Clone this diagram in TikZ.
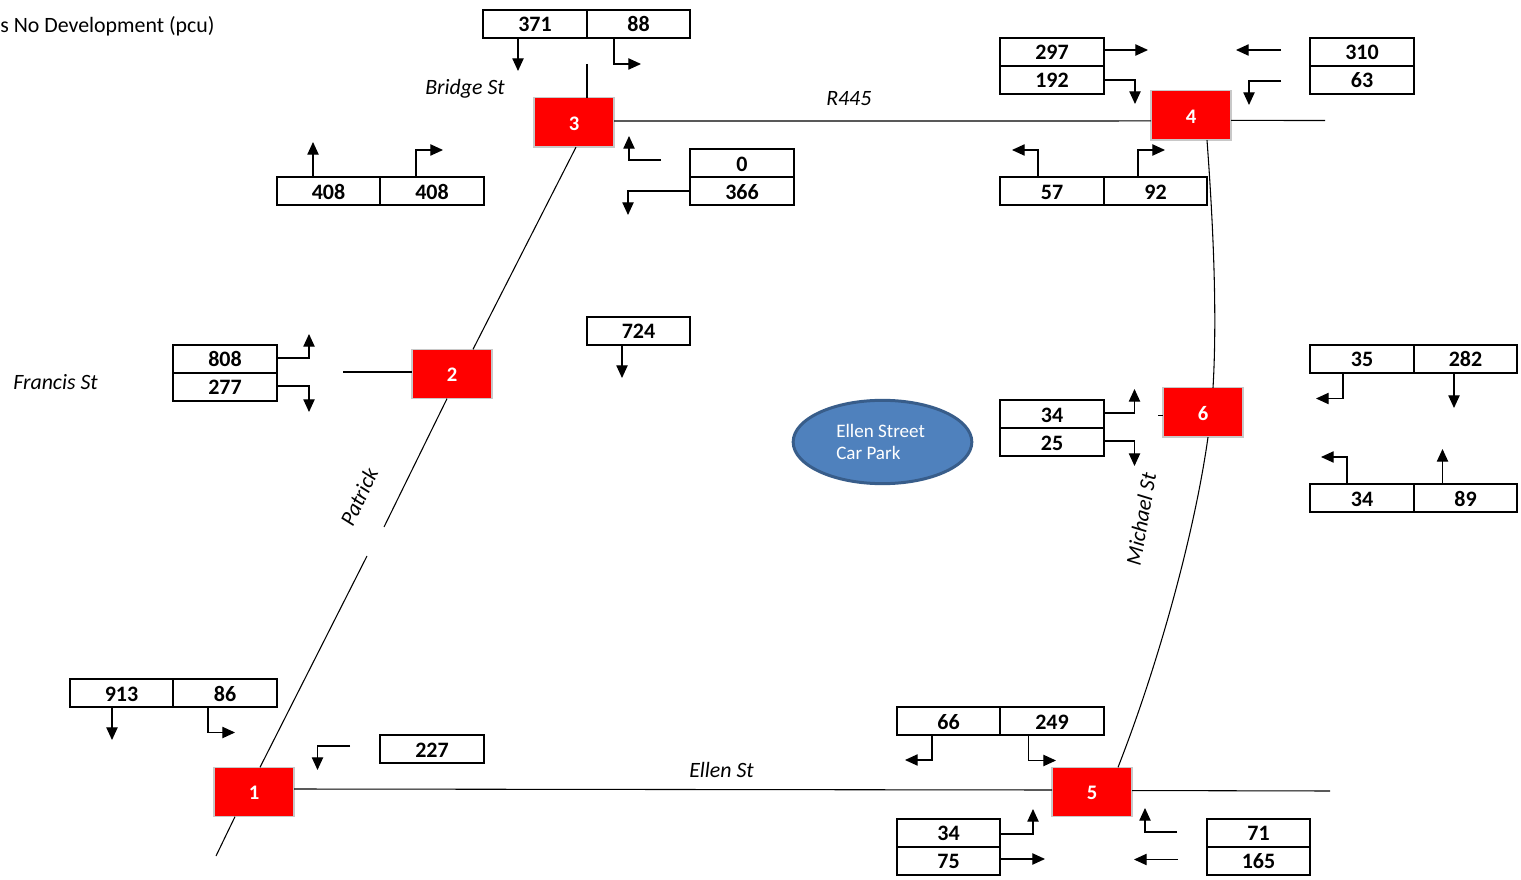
\documentclass[tikz,border=0pt]{standalone}
\usepackage{fontspec}
\setmainfont{Carlito}
\usetikzlibrary{arrows.meta,shapes.geometric}
\definecolor{parkfill}{RGB}{79,129,189}
\definecolor{parkline}{RGB}{56,93,138}
\definecolor{junctionline}{RGB}{200,200,200}
\tikzset{
  cell/.style={draw,line width=1.5pt,minimum width=77.6pt,minimum height=21pt,inner sep=0pt,outer sep=0pt,text height=12pt,text depth=0pt,font=\fontsize{16.5}{18}\selectfont\bfseries},
  junction/.style={draw=junctionline,fill=red,line width=1pt,minimum width=60pt,minimum height=37pt,inner sep=0pt,outer sep=0pt,text=white,text height=11.6pt,text depth=0pt,font=\fontsize{15.5}{18}\selectfont\bfseries},
  road/.style={line width=0.8pt},
  flow/.style={line width=0.9pt,-{Triangle[length=9.5pt,width=8.5pt]}},
  label/.style={inner sep=0pt,font=\fontsize{16.4}{18}\selectfont\itshape}
}
\begin{document}
\begin{tikzpicture}[x=0.75pt,y=0.75pt,yscale=-1,xscale=1]
\useasboundingbox (0,0) rectangle (1521,880);

% Junctions
\node [junction] (n1) at (254,792) {1};
\node [junction] (n2) at (452,374) {2};
\node [junction] (n3) at (574,122.5) {3};
\node [junction] (n4) at (1191,115.5) {4};
\node [junction] (n5) at (1092,792) {5};
\node [junction] (n6) at (1203,412.5) {6};

% Road ends
\coordinate (bridgeend) at (587,64);
\coordinate (francisend) at (343,372);
\coordinate (r445end) at (1325,120.5);
\coordinate (ellenend) at (1330,791);
\coordinate (patrickend) at (216,856);
\coordinate (gaptop) at (384,527);
\coordinate (gapbot) at (367,556);

% Roads
\draw [road] (bridgeend) -- ([xshift=9.75pt]n3.north);
\draw [road] ([yshift=-1.1pt]n3.east) -- ([yshift=4.1pt]n4.west);
\draw [road] ([yshift=3.7pt]n4.east) -- (r445end);
\draw [road] ([xshift=1.5pt]n3.south) -- ([xshift=15.75pt]n2.north);
\draw [road] ([xshift=-3.75pt]n2.south) -- (gaptop);
\draw [road] (gapbot) -- ([xshift=4.5pt]n1.north);
\draw [road] ([xshift=-14.25pt]n1.south) -- (patrickend);
\draw [road] (francisend) -- ([yshift=-1.5pt]n2.west);
\draw [road] ([yshift=-2.25pt]n1.east) -- ([yshift=-1.5pt]n5.west);
\draw [road] ([yshift=-1.1pt]n5.east) -- (ellenend);
\draw [road] ([xshift=12pt]n4.south) .. controls (1214,235) and (1217,320) .. ([xshift=7.5pt]n6.north);
\draw [road] ([xshift=3.75pt]n6.south) .. controls (1195,530) and (1160,660) .. ([xshift=19.5pt]n5.north);
\draw [road] ([xshift=-3.75pt,yshift=2.25pt]n6.west) -- ([yshift=2.25pt]n6.west);

% Car park
\node [ellipse,draw=parkline,fill=parkfill,line width=2.25pt,minimum width=134pt,minimum height=62.5pt,inner sep=0pt] (park) at (882.5,442) {};
\node [anchor=west,inner sep=0pt,text=white,font=\fontsize{14.3}{16}\selectfont] (parkone) at (836,431) {Ellen Street};
\node [anchor=west,inner sep=0pt,text=white,font=\fontsize{14.3}{16}\selectfont] (parktwo) at (836,453) {Car Park};

% Count boxes
\node [cell] (b371) at (535,24) {371};
\node [cell] (b88) at (638.5,24) {88};
\node [cell] (b408a) at (328.5,191.5) {408};
\node [cell] (b408b) at (432,191.5) {408};
\node [cell] (b0) at (742,163.5) {0};
\node [cell] (b366) at (742,191.5) {366};
\node [cell] (b724) at (638.5,331) {724};
\node [cell] (b808) at (225,359) {808};
\node [cell] (b277) at (225,387) {277};
\node [cell] (b913) at (121.5,693) {913};
\node [cell] (b86) at (225,693) {86};
\node [cell] (b227) at (432,749) {227};
\node [cell] (b297) at (1052,52) {297};
\node [cell] (b192) at (1052,80) {192};
\node [cell] (b310) at (1362,52) {310};
\node [cell] (b63) at (1362,80) {63};
\node [cell] (b57) at (1052,191.5) {57};
\node [cell] (b92) at (1155.5,191.5) {92};
\node [cell] (b35) at (1362,359) {35};
\node [cell] (b282) at (1465.5,359) {282};
\node [cell] (b34a) at (1052,414.5) {34};
\node [cell] (b25) at (1052,442.5) {25};
\node [cell] (b34b) at (1362,498) {34};
\node [cell] (b89) at (1465.5,498) {89};
\node [cell] (b66) at (948.5,721) {66};
\node [cell] (b249) at (1052,721) {249};
\node [cell] (b34c) at (948.5,832.5) {34};
\node [cell] (b75) at (948.5,860.5) {75};
\node [cell] (b71) at (1258.5,832.5) {71};
\node [cell] (b165) at (1258.5,860.5) {165};

% Flow arrow ends and bends
\coordinate (t371) at (518,71);
\coordinate (k88) at (614,64);
\coordinate (t88) at (641,64);
\coordinate (t408a) at (313,142);
\coordinate (k408b) at (416,150);
\coordinate (t408b) at (443,150);
\coordinate (s0) at (661,160);
\coordinate (k0) at (629,160);
\coordinate (t0) at (629,136);
\coordinate (k366) at (628,191);
\coordinate (t366) at (628,215);
\coordinate (t724) at (622,378);
\coordinate (k808) at (309,358);
\coordinate (t808) at (309,334);
\coordinate (k277) at (309,386);
\coordinate (t277) at (309,412);
\coordinate (t297) at (1148,50);
\coordinate (k192) at (1135,80);
\coordinate (t192) at (1135,104);
\coordinate (t310) at (1236,50);
\coordinate (s310) at (1281,50);
\coordinate (s63) at (1281,81);
\coordinate (k63) at (1249,81);
\coordinate (t63) at (1249,105);
\coordinate (k57) at (1038,150);
\coordinate (t57) at (1012,150);
\coordinate (k92) at (1138,150);
\coordinate (t92) at (1165,150);
\coordinate (k35) at (1343,398.5);
\coordinate (t35) at (1316,398.5);
\coordinate (t282) at (1454,408);
\coordinate (k34a) at (1134.5,413);
\coordinate (t34a) at (1134.5,389);
\coordinate (k25) at (1134.5,441);
\coordinate (t25) at (1134.5,466);
\coordinate (k34b) at (1347,457);
\coordinate (t34b) at (1321,457);
\coordinate (t89) at (1442.5,449);
\coordinate (t913) at (112,740);
\coordinate (k86) at (208,732.5);
\coordinate (t86) at (235,732.5);
\coordinate (s227) at (350,746);
\coordinate (k227) at (317.5,746);
\coordinate (t227) at (317.5,770);
\coordinate (k66) at (932,760);
\coordinate (t66) at (905,760);
\coordinate (k249) at (1028.5,760.5);
\coordinate (t249) at (1056,760.5);
\coordinate (k34c) at (1033,834);
\coordinate (t34c) at (1033,809);
\coordinate (t75) at (1045,859);
\coordinate (s71) at (1177,832);
\coordinate (k71) at (1145,832);
\coordinate (t71) at (1145,808);
\coordinate (s165) at (1178,859.5);
\coordinate (t165) at (1134,859.5);

% Flow arrows
\draw [flow] (t371 |- b371.south) -- (t371);
\draw [flow] (k88 |- b88.south) -- (k88) -- (t88);
\draw [flow] (t408a |- b408a.north) -- (t408a);
\draw [flow] (k408b |- b408b.north) -- (k408b) -- (t408b);
\draw [flow] (s0) -- (k0) -- (t0);
\draw [flow] (k366 -| b366.west) -- (k366) -- (t366);
\draw [flow] (t724 |- b724.south) -- (t724);
\draw [flow] (k808 -| b808.east) -- (k808) -- (t808);
\draw [flow] (k277 -| b277.east) -- (k277) -- (t277);
\draw [flow] (t297 -| b297.east) -- (t297);
\draw [flow] (k192 -| b192.east) -- (k192) -- (t192);
\draw [flow] (s310) -- (t310);
\draw [flow] (s63) -- (k63) -- (t63);
\draw [flow] (k57 |- b57.north) -- (k57) -- (t57);
\draw [flow] (k92 |- b92.north) -- (k92) -- (t92);
\draw [flow] (k35 |- b35.south) -- (k35) -- (t35);
\draw [flow] (t282 |- b282.south) -- (t282);
\draw [flow] (k34a -| b34a.east) -- (k34a) -- (t34a);
\draw [flow] (k25 -| b25.east) -- (k25) -- (t25);
\draw [flow] (k34b |- b34b.north) -- (k34b) -- (t34b);
\draw [flow] (t89 |- b89.north) -- (t89);
\draw [flow] (t913 |- b913.south) -- (t913);
\draw [flow] (k86 |- b86.south) -- (k86) -- (t86);
\draw [flow] (s227) -- (k227) -- (t227);
\draw [flow] (k66 |- b66.south) -- (k66) -- (t66);
\draw [flow] (k249 |- b249.south) -- (k249) -- (t249);
\draw [flow] (k34c -| b34c.east) -- (k34c) -- (t34c);
\draw [flow] (t75 -| b75.east) -- (t75);
\draw [flow] (s71) -- (k71) -- (t71);
\draw [flow] (s165) -- (t165);

% Text Node
\node [anchor=west,inner sep=0pt,font=\fontsize{16.4}{18}\selectfont] (title) at (0,26) {s No Development (pcu)};
% Text Node
\node [label,anchor=west] (bridgest) at (425,89) {Bridge St};
% Text Node
\node [label,anchor=west] (r445) at (826,99) {R445};
% Text Node
\node [label,anchor=west] (francisst) at (13,382) {Francis St};
% Text Node
\node [label,anchor=west] (ellenst) at (689,770) {Ellen St};
% Text Node
\node [label,rotate=65] (patrick) at (359,497) {Patrick};
% Text Node
\node [label,rotate=80] (michaelst) at (1141,519) {Michael St};

\end{tikzpicture}
\end{document}
